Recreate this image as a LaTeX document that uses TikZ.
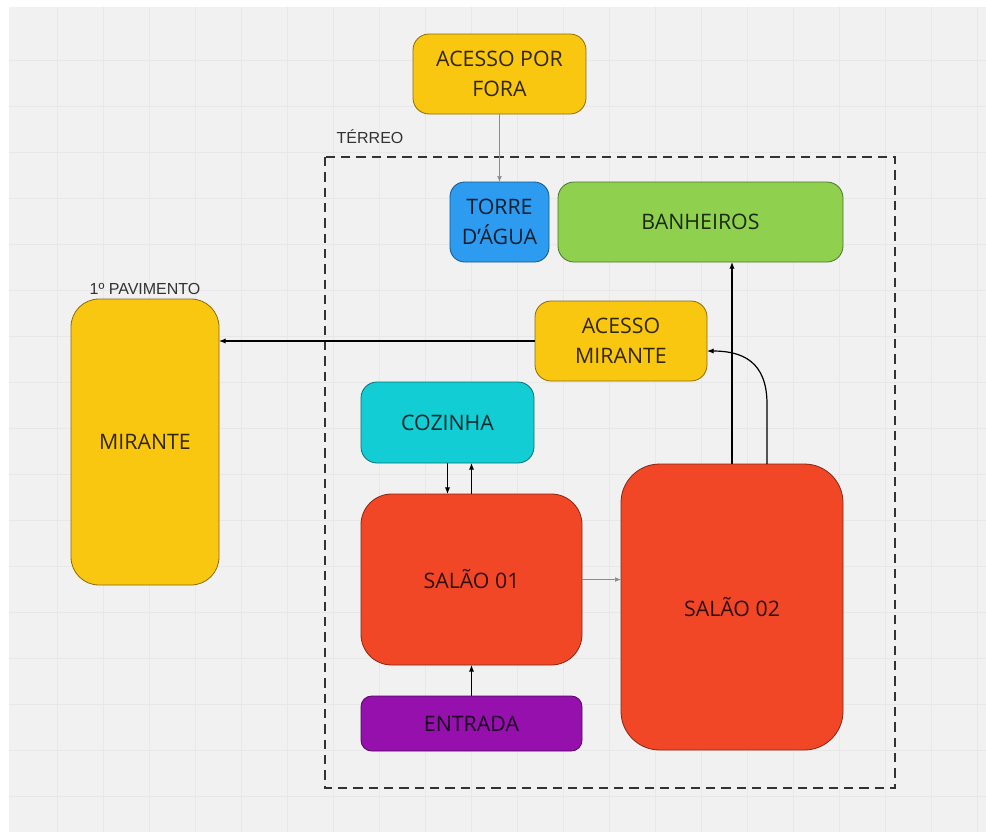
\documentclass[tikz,border=0pt]{standalone}
\usepackage{fontspec}
\setmainfont{Open Sans}
\newfontfamily\rotulofont{Liberation Sans}
\usetikzlibrary{arrows.meta, positioning}

\definecolor{amarelo}{HTML}{FAC710}
\definecolor{azul}{HTML}{2D9BF0}
\definecolor{verde}{HTML}{8FD14F}
\definecolor{ciano}{HTML}{12CDD4}
\definecolor{vermelho}{HTML}{F24726}
\definecolor{roxo}{HTML}{9510AC}
\definecolor{fundo}{HTML}{F1F1F1}
\definecolor{grade}{HTML}{E8E8E8}

\tikzset{
  sala/.style={draw=#1!55!black, fill=#1, line width=0.6pt, inner sep=0pt,
    outer sep=0pt, align=center, text=black, text opacity=0.8,
    font=\fontsize{16}{22.5}\selectfont},
  seta/.style={-{Latex[length=5pt,width=4pt]}, line width=0.9pt},
  setafina/.style={-{Latex[length=4.5pt,width=3.5pt]}, line width=0.5pt, black!45},
  rotulo/.style={font=\rotulofont\fontsize{12}{14}\selectfont, text=black!80},
}

\begin{document}
\begin{tikzpicture}[x=0.75pt,y=-0.75pt]
\useasboundingbox (0,0) rectangle (986,832);
\fill[fundo] (9,7) rectangle (986,832);
\foreach \gx in {57,103,...,985}
  \draw[grade,line width=0.6pt] (\gx,7) -- (\gx,832);
\foreach \gy in {60,106,...,831}
  \draw[grade,line width=0.6pt] (9,\gy) -- (986,\gy);

% terreo
\draw[black!80,line width=1.6pt,dash pattern=on 7pt off 4.5pt] (325,157) rectangle (895,788);
\node[rotulo,anchor=west] (terreo) at (332,137) {TÉRREO};

\node[sala=amarelo,rounded corners=12pt,minimum width=129.75pt,minimum height=60pt]
  (fora) at (499.5,74) {ACESSO POR\\FORA};
\node[sala=azul,rounded corners=11pt,minimum width=74.25pt,minimum height=60pt]
  (torre) at (499.5,222) {TORRE\\D'ÁGUA};
\node[sala=verde,rounded corners=12pt,minimum width=213.75pt,minimum height=60pt]
  (banheiros) at (700.5,222) {BANHEIROS};
\node[sala=amarelo,rounded corners=12pt,minimum width=129pt,minimum height=60pt]
  (acesso) at (621,341) {ACESSO\\MIRANTE};
\node[sala=ciano,rounded corners=12pt,minimum width=129.75pt,minimum height=60.75pt]
  (cozinha) at (447.5,422.5) {COZINHA};
\node[sala=vermelho,rounded corners=23pt,minimum width=165.75pt,minimum height=128.25pt]
  (salao1) at (471.5,579.5) {SALÃO 01};
\node[sala=vermelho,rounded corners=29pt,minimum width=166.5pt,minimum height=214.5pt]
  (salao2) at (732,607) {SALÃO 02};
\node[sala=roxo,rounded corners=8pt,minimum width=165.75pt,minimum height=41.25pt]
  (entrada) at (471.5,723.5) {ENTRADA};

% 1o pavimento
\node[sala=amarelo,rounded corners=21pt,minimum width=111pt,minimum height=214.5pt]
  (mirante) at (145,442) {MIRANTE};
\node[rotulo,above=0pt of mirante.north] (pavimento) {1º PAVIMENTO};

\draw[setafina] (fora.south) -- (torre.north);
\draw[seta] (acesso.west) -- (acesso.west -| mirante.east);
\draw[seta] (cozinha.south) -- (cozinha.south |- salao1.north);
\draw[seta] (salao1.north) -- (salao1.north |- cozinha.south);
\draw[seta] (entrada.north) -- (salao1.south);
\draw[setafina] (salao1.east) -- (salao1.east -| salao2.west);
\draw[seta] (salao2.north) -- (salao2.north |- banheiros.south);
\draw[seta] ([xshift=26.25pt]salao2.north) -- ++(0,-60)
  .. controls +(0,-42) and +(36,0) .. ([yshift=-7.5pt]acesso.east);
\end{tikzpicture}
\end{document}
